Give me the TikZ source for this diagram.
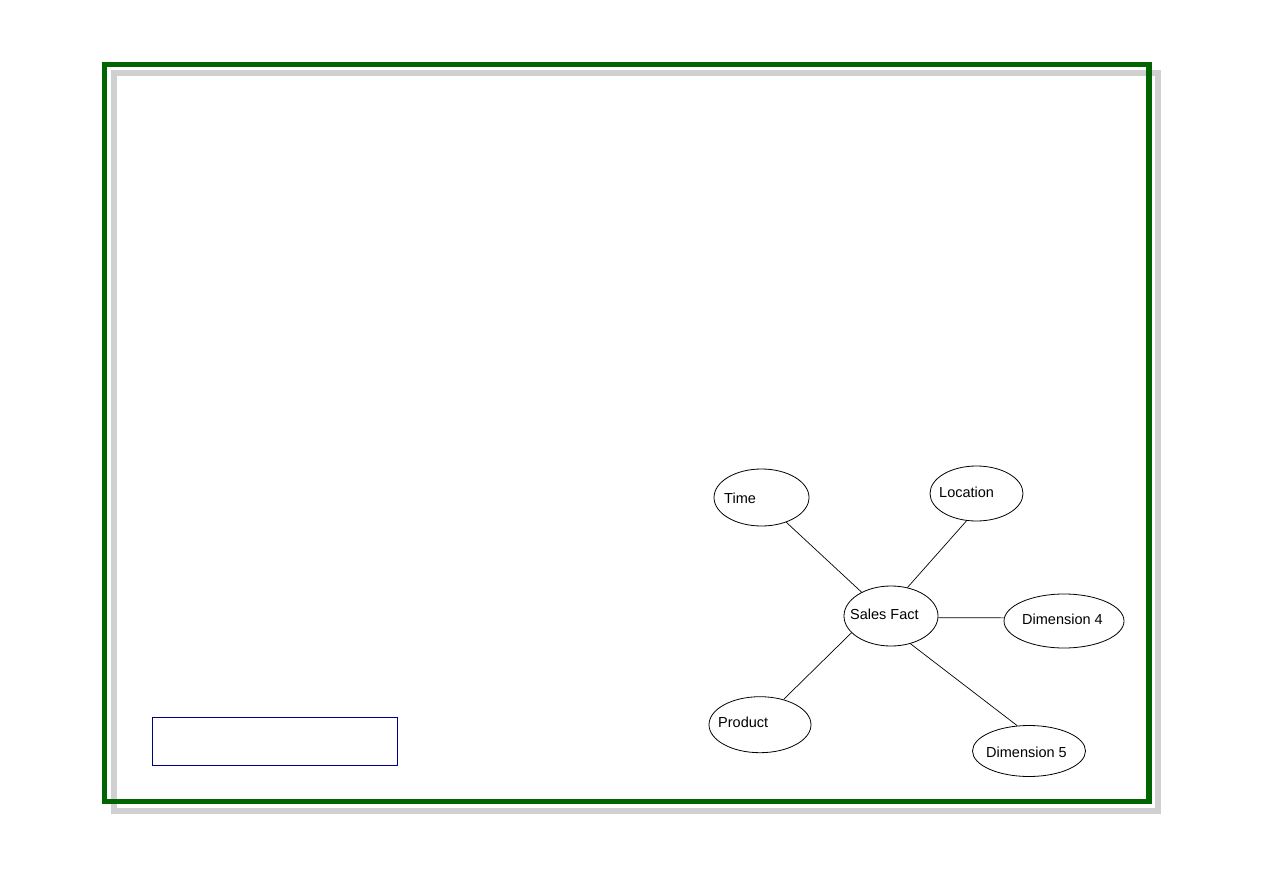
\documentclass[tikz,border=0pt]{standalone}
\usepackage{fontspec}
\setmainfont{Liberation Sans}
\usetikzlibrary{shapes.geometric}
\definecolor{frameg}{RGB}{0,100,0}
\definecolor{shadowg}{RGB}{208,208,208}
\definecolor{boxb}{RGB}{0,0,128}

\begin{document}
\begin{tikzpicture}[x=1pt,y=-1pt,
 every node/.style={font=\fontsize{14.5}{17}\selectfont},
 dim/.style={ellipse,draw,line width=.8pt,inner sep=0pt},
 txt/.style={anchor=base west,inner sep=0pt}]
\newcommand{\SFlink}[4]{\draw[line width=.7pt] (SF-#1.#2) -- (SF-#3.#4);}
\useasboundingbox (0,0) rectangle (1263,893);
% frame with shadow
\draw[shadowg,line width=6pt] (114,73) rectangle (1158,811);
\draw[frameg,line width=5.5pt] (104.5,64.5) rectangle (1149,801.5);
\draw[boxb,line width=1pt] (152.3,717.3) rectangle (397.7,765);
% star schema
\node[dim,minimum width=95,minimum height=57] (SF-time) at (761.5,497.5) {};
\node[dim,minimum width=93,minimum height=55] (SF-loc) at (976.5,493.5) {};
\node[dim,minimum width=94,minimum height=60] (SF-fact) at (891,616) {};
\node[dim,minimum width=120,minimum height=54] (SF-d4) at (1064,621) {};
\node[dim,minimum width=102,minimum height=56] (SF-prod) at (760,724.7) {};
\node[dim,minimum width=113,minimum height=51] (SF-d5) at (1029,751) {};
\node[txt] (SF-time-t) at (724,503) {Time};
\node[txt] (SF-loc-t) at (939,497) {Location};
\node[txt] (SF-fact-t) at (850,619) {Sales Fact};
\node[txt] (SF-d4-t) at (1022,624) {Dimension 4};
\node[txt] (SF-prod-t) at (718,727) {Product};
\node[txt] (SF-d5-t) at (986,757) {Dimension 5};
\SFlink{time}{-45}{fact}{141}
\SFlink{loc}{250}{fact}{60}
\SFlink{fact}{-2}{d4}{177}
\SFlink{fact}{203}{prod}{47}
\SFlink{fact}{-55}{d5}{115}
\end{tikzpicture}
\end{document}
